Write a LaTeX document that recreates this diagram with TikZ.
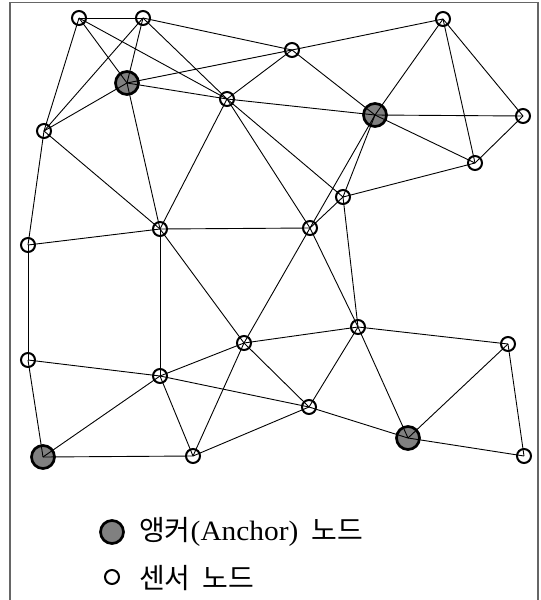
\documentclass[tikz,border=0pt]{standalone}
\usepackage{graphicx}
\usepackage{fontspec}
\setmainfont{Liberation Serif}
\newfontfamily\cjk{Noto Sans CJK KR}
\definecolor{anchorgray}{RGB}{128,128,128}
\tikzset{
  sensor/.style={circle, draw=black, line width=2pt, minimum size=14pt, inner sep=0pt},
  anchornode/.style={circle, draw=black, fill=anchorgray, line width=2.7pt, minimum size=23pt, inner sep=0pt},
  link/.style={draw=black, line width=0.9pt},
  legendtext/.style={anchor=base west, inner sep=0pt, font=\fontsize{28}{32}\selectfont}
}
\begin{document}
\begin{tikzpicture}[x=1pt,y=-1pt]
\useasboundingbox (0,0) rectangle (541,600);
\draw[black!60, line width=1.2pt] (10,2.5) rectangle (538,606);
% nodes
\node[sensor] (A) at (79,18) {};
\node[sensor] (B) at (143,18) {};
\node[sensor] (C) at (292,50) {};
\node[sensor] (D) at (443,19) {};
\node[anchornode] (E) at (127,83) {};
\node[sensor] (F) at (227,99) {};
\node[anchornode] (G) at (375,115) {};
\node[sensor] (H) at (523,116) {};
\node[sensor] (I) at (44,131) {};
\node[sensor] (J) at (475,163) {};
\node[sensor] (K) at (343,197) {};
\node[sensor] (L) at (160,229) {};
\node[sensor] (M) at (310,228) {};
\node[sensor] (N) at (28,245) {};
\node[sensor] (O) at (244,343) {};
\node[sensor] (P) at (358,327) {};
\node[sensor] (Q) at (508,344) {};
\node[sensor] (R) at (28,360) {};
\node[sensor] (S) at (160,376) {};
\node[sensor] (T) at (309,407) {};
\node[anchornode] (U) at (408,438) {};
\node[anchornode] (V) at (43,457) {};
\node[sensor] (W) at (193,456) {};
\node[sensor] (X) at (524,456) {};
% links
\foreach \a/\b in {A/B,A/I,A/E,A/F,B/E,B/I,B/F,B/C,C/E,C/F,C/D,C/G,D/G,D/J,D/H,
  E/F,E/I,E/L,F/G,F/K,F/M,F/L,G/H,G/J,G/K,G/M,H/J,J/K,I/L,I/N,K/P,K/M,
  L/M,L/N,L/O,L/S,M/O,M/P,N/R,O/P,O/S,O/T,O/W,P/Q,P/T,P/U,Q/U,Q/X,
  R/S,R/V,S/V,S/W,S/T,T/U,T/W,U/X,V/W}
  \path[link] (\a.center) -- (\b.center);
% legend
\node[anchornode] (LA) at (112,532) {};
\node[sensor] (LS) at (112,577) {};
\node[legendtext] (LAT) at (139,540) {{\cjk 앵커}\scalebox{1.05}[1]{(Anchor)}\hspace{13pt}{\cjk 노드}};
\node[legendtext] (LST) at (139,588) {{\cjk 센서}\hspace{12pt}{\cjk 노드}};
\end{tikzpicture}
\end{document}
